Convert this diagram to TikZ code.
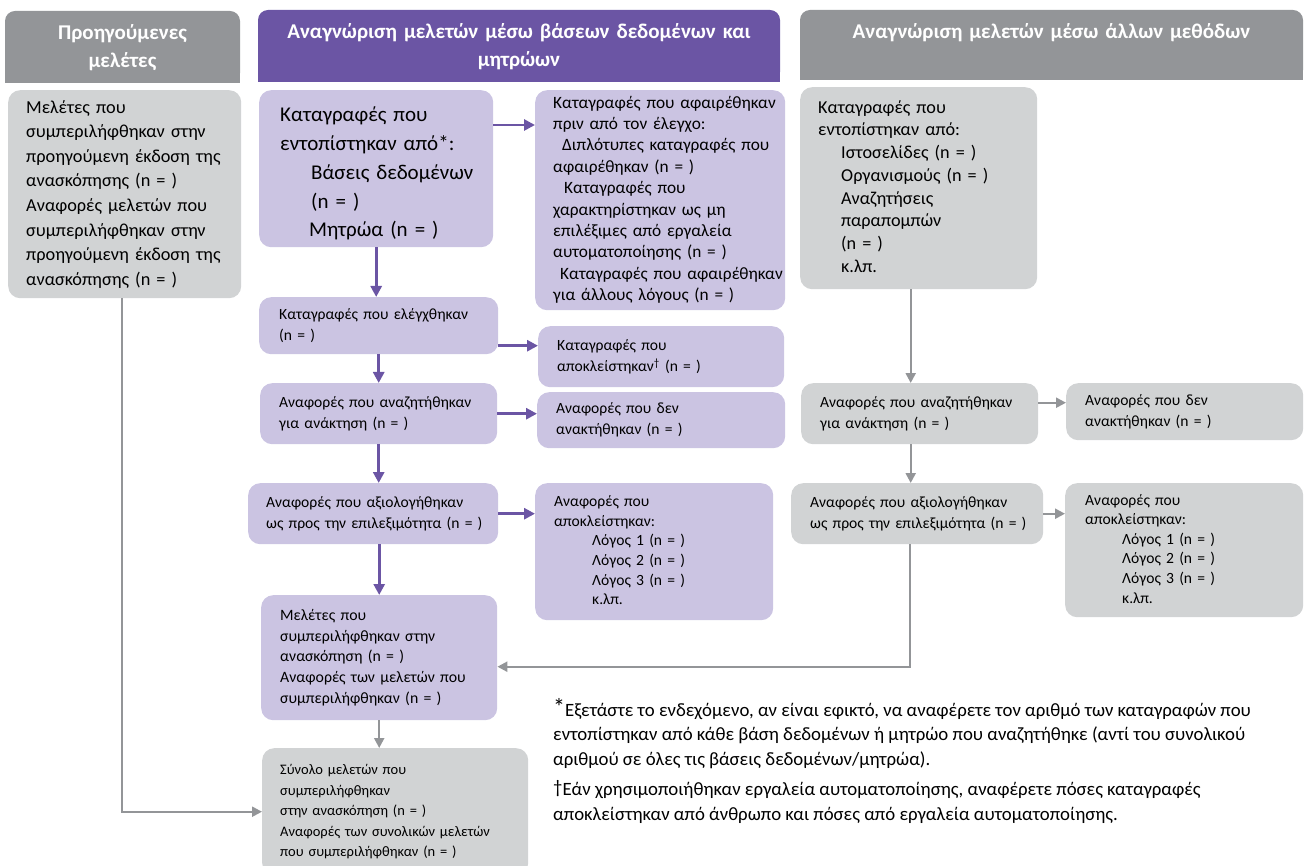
\documentclass[tikz,border=0pt]{standalone}
\usepackage{fontspec}
\setmainfont{Carlito}
\usepackage{xcolor}
\usepackage{tikz}
\usetikzlibrary{positioning,arrows.meta,calc}

\definecolor{hdrpurple}{HTML}{6B55A4}
\definecolor{boxpurple}{HTML}{CBC4E2}
\definecolor{hdrgray}{HTML}{939598}
\definecolor{boxgray}{HTML}{D1D3D4}
\definecolor{arrgray}{HTML}{939598}

% lines of a box, kept from wrapping
\newcommand{\boxlines}[1]{\begin{tabular}{@{}l@{}}#1\end{tabular}}

\begin{document}
\begin{tikzpicture}[x=1pt, y=-1pt, >={Triangle[length=11pt,width=11pt]},
  box/.style={anchor=north west, rounded corners=12pt, align=left, inner xsep=19pt, inner ysep=0pt,
              font=\fontsize{15.6}{21}\selectfont},
  pbox/.style={box, fill=boxpurple},
  gbox/.style={box, fill=boxgray},
  hdr/.style={anchor=north, align=center, text=white, inner sep=0pt,
              font=\fontsize{21}{28.5}\selectfont\bfseries},
  parr/.style={->, draw=hdrpurple, line width=2.8pt},
  garr/.style={-{Triangle[length=10pt,width=10pt]}, draw=arrgray, line width=2.2pt}]
  \useasboundingbox (0,0) rectangle (1306,866);

  % column headers
  \fill[hdrgray, rounded corners=10pt] (5,11) rectangle (240,83);
  \fill[hdrgray] (5,45) rectangle (240,83);
  \fill[hdrpurple, rounded corners=10pt] (258,10) rectangle (780,82);
  \fill[hdrpurple] (258,45) rectangle (780,82);
  \fill[hdrgray, rounded corners=10pt] (800,10) rectangle (1303,80);
  \fill[hdrgray] (800,45) rectangle (1303,80);
  \node[hdr, text width=225pt] (hprev)  at (122.5,24) {Προηγούμενες\\μελέτες};
  \node[hdr, text width=510pt] (hdbase) at (519,23)   {Αναγνώριση μελετών μέσω βάσεων δεδομένων και\\μητρώων};
  \node[hdr, text width=490pt] (hother) at (1051.5,23) {Αναγνώριση μελετών μέσω άλλων μεθόδων};

  % previous studies
  \node[gbox, inner xsep=18pt, text width=197pt, minimum height=208pt, font=\fontsize{18.3}{24.6}\selectfont] (prev) at (8,90)
    {\boxlines{Μελέτες που\\συμπεριλήφθηκαν στην\\προηγούμενη έκδοση της\\ανασκόπησης (n = )\\
     Αναφορές μελετών που\\συμπεριλήφθηκαν στην\\προηγούμενη έκδοση της\\ανασκόπησης (n = )}};

  % databases and registers
  \node[pbox, inner xsep=21pt, text width=192pt, minimum height=157pt, font=\fontsize{21}{28.7}\selectfont] (ident) at (259,90)
    {\boxlines{\rule{0pt}{30pt}Καταγραφές που\\εντοπίστηκαν από*:\\\hspace*{31pt}Βάσεις δεδομένων\\
     \hspace*{31pt}(n = )\\\hspace*{29pt}Μητρώα (n = )}};
  \node[pbox, inner xsep=18pt, text width=214pt, minimum height=220pt, font=\fontsize{17.3}{21.4}\selectfont] (removed) at (535,90)
    {\boxlines{Καταγραφές που αφαιρέθηκαν\\πριν από τον έλεγχο:\\\hspace*{9pt}Διπλότυπες καταγραφές που\\αφαιρέθηκαν (n = )\\
     \hspace*{11pt}Καταγραφές που\\χαρακτηρίστηκαν ως μη\\επιλέξιμες από εργαλεία\\αυτοματοποίησης (n = )\\
     \hspace*{7pt}Καταγραφές που αφαιρέθηκαν\\για άλλους λόγους (n = )}};
  \node[pbox, inner xsep=20pt, text width=199pt, minimum height=57pt] (screened) at (259,297)
    {\boxlines{Καταγραφές που ελέγχθηκαν\\(n = )}};
  \node[pbox, text width=208pt, minimum height=61pt] (excluded) at (538,326)
    {\boxlines{Καταγραφές που\\αποκλείστηκαν\textsuperscript{†} (n = )}};
  \node[pbox, text width=199pt, minimum height=61pt] (retrieval) at (260,383)
    {\boxlines{Αναφορές που αναζητήθηκαν\\για ανάκτηση (n = )}};
  \node[pbox, text width=210pt, minimum height=56pt] (notret) at (537,392)
    {\boxlines{Αναφορές που δεν\\ανακτήθηκαν (n = )}};
  \node[pbox, inner xsep=18pt, text width=214pt, minimum height=61pt] (assessed) at (248,483)
    {\boxlines{Αναφορές που αξιολογήθηκαν\\ως προς την επιλεξιμότητα (n = )}};
  \node[pbox, text width=200pt, minimum height=137pt, font=\fontsize{15.6}{19.6}\selectfont] (reasons) at (535,483)
    {\boxlines{Αναφορές που\\αποκλείστηκαν:\\\hspace*{38pt}Λόγος 1 (n = )\\\hspace*{38pt}Λόγος 2 (n = )\\
     \hspace*{38pt}Λόγος 3 (n = )\\\hspace*{38pt}κ.λπ.}};
  \node[pbox, text width=198pt, minimum height=125pt, font=\fontsize{15.8}{20.7}\selectfont] (included) at (261,595)
    {\boxlines{Μελέτες που\\συμπεριλήφθηκαν στην\\ανασκόπηση (n = )\\Αναφορές των μελετών που\\συμπεριλήφθηκαν (n = )}};
  \node[gbox, inner xsep=18pt, text width=230pt, minimum height=127pt, font=\fontsize{14.5}{20.5}\selectfont] (total) at (262,748)
    {\boxlines{Σύνολο μελετών που\\συμπεριλήφθηκαν\\στην ανασκόπηση (n = )\\Αναφορές των συνολικών μελετών\\που συμπεριλήφθηκαν (n = )}};

  % other methods
  \node[gbox, inner xsep=18pt, text width=201pt, minimum height=202pt, font=\fontsize{18.2}{22.7}\selectfont] (oident) at (800,87)
    {\boxlines{Καταγραφές που\\εντοπίστηκαν από:\\\hspace*{23pt}Ιστοσελίδες (n = )\\\hspace*{23pt}Οργανισμούς (n = )\\
     \hspace*{23pt}Αναζητήσεις\\\hspace*{23pt}παραπομπών\\\hspace*{23pt}(n = )\\\hspace*{23pt}κ.λπ.}};
  \node[gbox, text width=199pt, minimum height=61pt] (oretrieval) at (801,383)
    {\boxlines{Αναφορές που αναζητήθηκαν\\για ανάκτηση (n = )}};
  \node[gbox, text width=199pt, minimum height=57pt] (onotret) at (1066,383)
    {\boxlines{Αναφορές που δεν\\ανακτήθηκαν (n = )}};
  \node[gbox, text width=214pt, minimum height=61pt] (oassessed) at (791,483)
    {\boxlines{Αναφορές που αξιολογήθηκαν\\ως προς την επιλεξιμότητα (n = )}};
  \node[gbox, inner xsep=20pt, text width=198pt, minimum height=134pt, font=\fontsize{15.6}{19.6}\selectfont] (oreasons) at (1065,483)
    {\boxlines{Αναφορές που\\αποκλείστηκαν:\\\hspace*{37pt}Λόγος 1 (n = )\\\hspace*{37pt}Λόγος 2 (n = )\\
     \hspace*{37pt}Λόγος 3 (n = )\\\hspace*{37pt}κ.λπ.}};

  % footnotes
  \node[anchor=north west, align=left, inner sep=0pt, font=\fontsize{18.8}{24.5}\selectfont] (notes) at (553,698)
    {{\fontsize{24}{24}\selectfont\raisebox{1pt}{*}}Εξετάστε το ενδεχόμενο, αν είναι εφικτό, να αναφέρετε τον αριθμό των καταγραφών που\\
     εντοπίστηκαν από κάθε βάση δεδομένων ή μητρώο που αναζητήθηκε (αντί του συνολικού\\
     αριθμού σε όλες τις βάσεις δεδομένων/μητρώα).\\[6pt]
     \raisebox{2pt}{†}Εάν χρησιμοποιήθηκαν εργαλεία αυτοματοποίησης, αναφέρετε πόσες καταγραφές\\
     αποκλείστηκαν από άνθρωπο και πόσες από εργαλεία αυτοματοποίησης.};

  % arrows
  \draw[parr] ([yshift=-35pt]ident.north east) -- ([yshift=-35pt]ident.north east -| removed.west);
  \draw[parr] (ident.south) -- (ident.south |- screened.north);
  \draw[parr] ([yshift=-20pt]screened.east) -- ([yshift=-20pt]screened.east -| excluded.west);
  \draw[parr] (screened.south) -- (screened.south |- retrieval.north);
  \draw[parr] (retrieval.east) -- (retrieval.east -| notret.west);
  \draw[parr] (retrieval.south) -- (retrieval.south |- assessed.north);
  \draw[parr] (assessed.east) -- (assessed.east -| reasons.west);
  \draw[parr] (included.north |- assessed.south) -- (included.north);
  \draw[garr] (included.south) -- (included.south |- total.north);
  \draw[garr] ([xshift=-3pt]prev.south) |- (total.west);
  \draw[garr] ([xshift=-8pt]oident.south) -- ([xshift=-8pt]oident.south |- oretrieval.north);
  \draw[garr] ([yshift=11pt]oretrieval.east) -- ([yshift=11pt]oretrieval.east -| onotret.west);
  \draw[garr] ([xshift=-9pt]oretrieval.south) -- ([xshift=-9pt]oretrieval.south |- oassessed.north);
  \draw[garr] (oassessed.east) -- (oassessed.east -| oreasons.west);
  \draw[garr] ([xshift=-7pt]oassessed.south) |- ([yshift=-9pt]included.east);
\end{tikzpicture}
\end{document}
